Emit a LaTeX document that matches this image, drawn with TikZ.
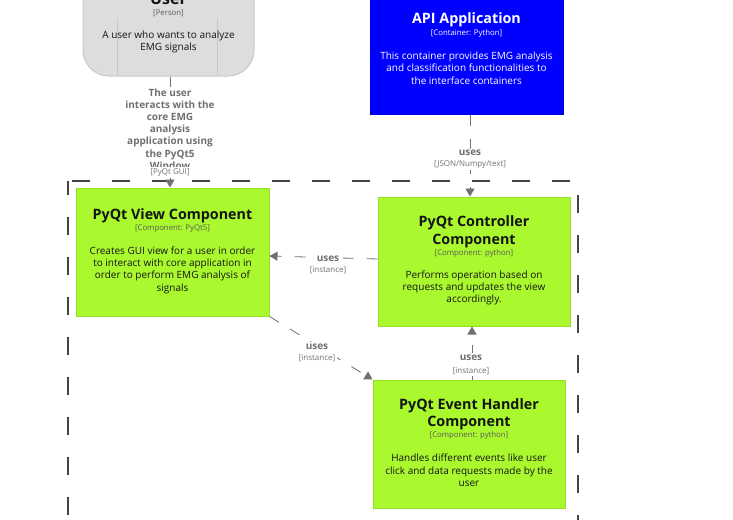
\documentclass[tikz,border=0pt]{standalone}
\usepackage{fontspec}
\setmainfont{Open Sans}
\usetikzlibrary{arrows.meta,calc}
\definecolor{cgreen}{RGB}{170,248,46}
\definecolor{cgreenb}{RGB}{150,222,40}
\definecolor{cblue}{RGB}{0,0,255}
\definecolor{cblueb}{RGB}{0,0,215}
\definecolor{cperson}{RGB}{221,221,221}
\definecolor{cpersonb}{RGB}{200,200,200}
\definecolor{crel}{RGB}{112,112,112}
\definecolor{cbound}{RGB}{68,68,68}
\definecolor{ctxt}{RGB}{20,20,20}
\tikzset{
  compbox/.style={draw=cgreenb, fill=cgreen, line width=1pt, minimum width=192pt, minimum height=128pt, inner sep=0pt},
  apibox/.style={draw=cblueb, fill=cblue, line width=1pt, minimum width=193pt, minimum height=150pt, inner sep=0pt},
  personbox/.style={draw=cpersonb, fill=cperson, line width=1pt, rounded corners=26pt, minimum width=171pt, minimum height=120pt, inner sep=0pt},
  ttl/.style={font=\bfseries\fontsize{14.3}{17.5}\selectfont, align=center, text=ctxt, inner sep=0pt},
  techtxt/.style={font=\fontsize{7.8}{9}\selectfont, align=center, text=ctxt!70, inner sep=0pt},
  desctxt/.style={font=\fontsize{10}{12.3}\selectfont, align=center, text=ctxt, inner sep=0pt},
  rel/.style={draw=crel, line width=0.8pt, dash pattern=on 11pt off 13pt, -{Triangle[length=8pt,width=9pt]}},
  rellbl/.style={font=\bfseries\fontsize{10}{12.2}\selectfont, align=center, text=crel, fill=white, inner sep=1.5pt},
  reltech/.style={font=\fontsize{8}{9}\selectfont, text=crel, fill=white, inner sep=1.5pt},
}
\begin{document}
\begin{tikzpicture}[x=1pt,y=-1pt]
\useasboundingbox (0,0) rectangle (733,519);
\clip (0,0) rectangle (733,519);
\fill[white] (0,0) rectangle (733,519);

% boundary
\draw[cbound, line width=2pt, dash pattern=on 18pt off 22pt, dash phase=4pt] (68,181) rectangle (578,560);

% person
\node[personbox] (user) at (168.5,16) {};
\draw[cpersonb, line width=1pt] (117,18) -- (117,75);
\draw[cpersonb, line width=1pt] (217,18) -- (217,75);
\node[ttl, anchor=base, font=\bfseries\fontsize{16}{18}\selectfont] (usert) at (168.5,5) {User};
\node[techtxt] (userk) at (168.5,13) {[Person]};
\node[desctxt] (userd) at (168.5,42) {A user who wants to analyze\\EMG signals};

% API
\node[apibox] (api) at (466.5,39) {};
\node[ttl, text=white] (apit) at (466.5,20) {API Application};
\node[techtxt, text=white] (apik) at (466.5,33.5) {[Container: Python]};
\node[desctxt, text=white] (apid) at (466.5,68) {This container provides EMG analysis\\and classification functionalities to\\the interface containers};

% View
\node[compbox, minimum width=193pt] (view) at (172.5,252) {};
\node[ttl] (viewt) at (172.5,216) {PyQt View Component};
\node[techtxt] (viewk) at (172.5,228.5) {[Component: PyQt5]};
\node[desctxt] (viewd) at (172.5,270) {Creates GUI view for a user in order\\to interact with core application in\\order to perform EMG analysis of\\signals};

% Controller
\node[compbox, minimum height=129pt] (ctrl) at (474,261.5) {};
\node[ttl] (ctrlt) at (474,232) {PyQt Controller\\Component};
\node[techtxt] (ctrlk) at (474,253.5) {[Component: python]};
\node[desctxt] (ctrld) at (474,288) {Performs operation based on\\requests and updates the view\\accordingly.};

% Event handler
\node[compbox] (evt) at (469,444) {};
\node[ttl] (evtt) at (469,414.5) {PyQt Event Handler\\Component};
\node[techtxt] (evtk) at (469,435.5) {[Component: python]};
\node[desctxt] (evtd) at (469,470.5) {Handles different events like user\\click and data requests made by the\\user};

% connectors
\draw[rel] (user.south -| 170,0) -- (view.north -| 170,0);
\node[rellbl] (l1) at (170,129) {The user\\interacts with the\\core EMG\\analysis\\application using\\the PyQt5\\Window};
\node[reltech] (l1k) at (170,172.5) {[PyQt GUI]};

\draw[rel] (api.south -| 470,0) -- (ctrl.north -| 470,0);
\node[rellbl] (l2) at (470,153) {uses};
\node[reltech] (l2k) at (470,164.5) {[JSON/Numpy/text]};

\draw[rel] (ctrl.west |- 0,259) -- (view.east |- 0,256);
\node[rellbl] (l3) at (328,258.5) {uses};
\node[reltech] (l3k) at (328,270) {[instance]};

\draw[rel] (view.south east) -- (evt.north west);
\node[rellbl] (l4) at (317,346.5) {uses};
\node[reltech] (l4k) at (317,358.5) {[instance]};

\draw[rel] (evt.north -| 472,0) -- (ctrl.south -| 472,0);
\node[rellbl] (l5) at (471,357.5) {uses};
\node[reltech] (l5k) at (471,371) {[instance]};
\end{tikzpicture}
\end{document}
